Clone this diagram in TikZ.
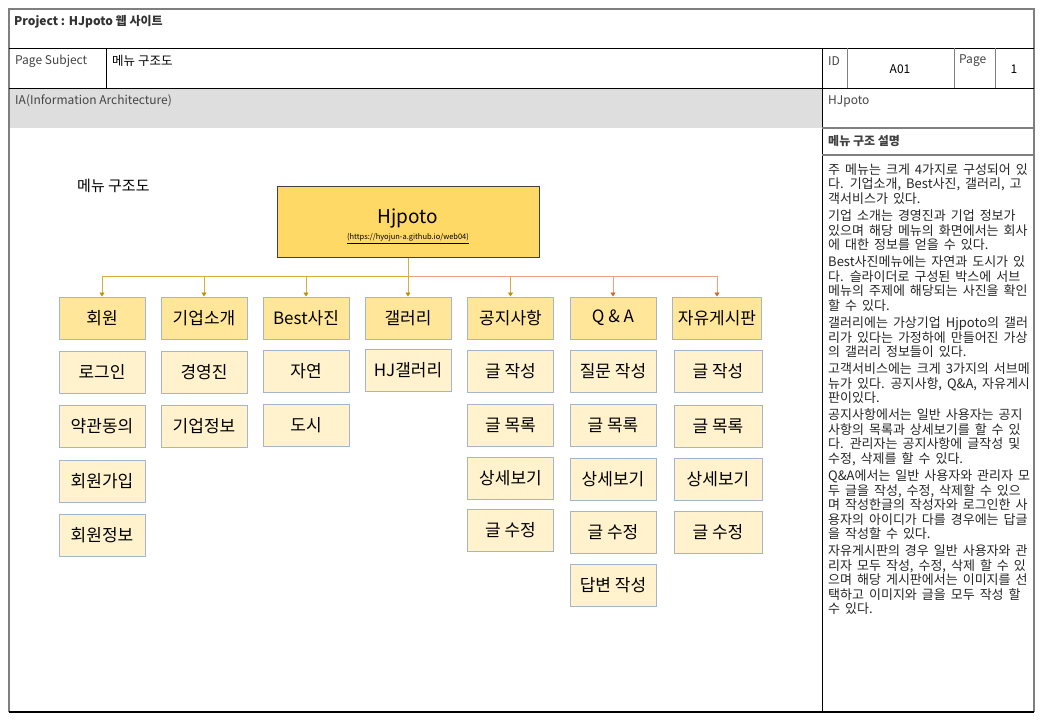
\documentclass[tikz,border=0pt]{standalone}
\usepackage{fontspec}
\setmainfont{Noto Sans CJK KR}
\usetikzlibrary{arrows.meta,calc}
\definecolor{rootfill}{HTML}{FFD966}
\definecolor{lonefill}{HTML}{FFE699}
\definecolor{ltwofill}{HTML}{FFF2CC}
\definecolor{boxborder}{HTML}{A5B6CC}
\definecolor{goldln}{HTML}{D6AE3A}
\definecolor{goldtip}{HTML}{BF9000}
\definecolor{orangeln}{HTML}{E9A27F}
\definecolor{orangetip}{HTML}{D0652A}
\definecolor{iagray}{HTML}{DEDEDE}
\definecolor{frame}{HTML}{7F7F7F}
\definecolor{hdrtext}{HTML}{444444}
\newcommand\mybodyfont{\fontsize{13}{14.5}\selectfont\spaceskip=5pt plus 1pt minus 1pt\relax}
\begin{document}
\begin{tikzpicture}[x=1pt,y=-1pt,
  lone/.style={draw=boxborder,line width=1pt,fill=lonefill,minimum width=86pt,minimum height=42pt,inner sep=0pt,font=\fontsize{17}{19}\selectfont},
  ltwo/.style={draw=boxborder,line width=1pt,fill=ltwofill,minimum width=86pt,minimum height=42pt,inner sep=0pt,font=\fontsize{17}{19}\selectfont},
  goldarrow/.style={draw=goldln,line width=0.9pt,-{Triangle[width=5pt,length=4pt,color=goldtip]}},
  orangearrow/.style={draw=orangeln,line width=0.9pt,-{Triangle[width=5pt,length=4pt,color=orangetip]}},
  hdr/.style={anchor=west,inner sep=0pt,font=\fontsize{12}{14}\selectfont,text=hdrtext}
]
\useasboundingbox (0,0) rectangle (1040,720);
\fill[white] (0,0) rectangle (1040,720);
% gray IA band
\fill[iagray] (9,88) rectangle (822,128);
% frame
\draw[frame,line width=1.3pt] (9,712) -- (9,9) -- (1034,9) -- (1034,712);
\draw[black,line width=1.5pt] (9,712) -- (1034,712);
\draw[black,line width=1pt] (9,48) -- (1034,48);
\draw[black,line width=1pt] (9,88) -- (1034,88);
\draw[black,line width=1pt] (106,48) -- (106,88);
\draw[black,line width=1pt] (822,48) -- (822,712);
\draw[frame,line width=1pt] (847,48) -- (847,88);
\draw[frame,line width=1pt] (954,48) -- (954,88);
\draw[frame,line width=1pt] (995,48) -- (995,88);
\draw[frame,line width=1.2pt] (822,128) -- (1034,128);
\draw[frame,line width=1.8pt] (822,155) -- (1034,155);
% header texts
\node[hdr,font=\bfseries\fontsize{12}{14}\selectfont,text=black!80] (proj) at (14,22) {Project : HJpoto 웹 사이트};
\node[hdr] (ps) at (15,61) {Page Subject};
\node[hdr,text=black,font=\fontsize{12.5}{14}\selectfont] (subj) at (112,61) {메뉴 구조도};
\node[hdr] (ia) at (15,101) {IA(Information Architecture)};
\node[hdr] (idl) at (828,61) {ID};
\node[inner sep=0pt,font=\fontsize{12}{14}\selectfont] (idv) at (900,69) {A01};
\node[hdr] (pgl) at (959,61) {Page};
\node[inner sep=0pt,font=\fontsize{12}{14}\selectfont] (pgv) at (1014,69) {1};
\node[hdr] (hj) at (828,101) {HJpoto};
\node[hdr,font=\bfseries\fontsize{12}{14}\selectfont,text=black!75] (desc) at (828,141) {메뉴 구조 설명};
% description text
\node[anchor=north west,inner sep=0pt,align=left,font=\mybodyfont,text=black!85] (body) at (828,163.5) {%
주 메뉴는 크게 4가지로 구성되어 있\\
다. 기업소개, Best사진, 갤러리, 고\\
객서비스가 있다.\\[2.7pt]
기업 소개는 경영진과 기업 정보가\\
있으며 해당 메뉴의 화면에서는 회사\\
에 대한 정보를 얻을 수 있다.\\[2.7pt]
Best사진메뉴에는 자연과 도시가 있\\
다. 슬라이더로 구성된 박스에 서브\\
메뉴의 주제에 해당되는 사진을 확인\\
할 수 있다.\\[2.7pt]
갤러리에는 가상기업 Hjpoto의 갤러\\
리가 있다는 가정하에 만들어진 가상\\
의 갤러리 정보들이 있다.\\[2.7pt]
고객서비스에는 크게 3가지의 서브메\\
뉴가 있다. 공지사항, Q\&A, 자유게시\\
판이있다.\\[2.7pt]
공지사항에서는 일반 사용자는 공지\\
사항의 목록과 상세보기를 할 수 있\\
다. 관리자는 공지사항에 글작성 및\\
수정, 삭제를 할 수 있다.\\[2.7pt]
Q\&A에서는 일반 사용자와 관리자 모\\
두 글을 작성, 수정, 삭제할 수 있으\\
며 작성한글의 작성자와 로그인한 사\\
용자의 아이디가 다를 경우에는 답글\\
을 작성할 수 있다.\\[2.7pt]
자유게시판의 경우 일반 사용자와 관\\
리자 모두 작성, 수정, 삭제 할 수 있\\
으며 해당 게시판에서는 이미지를 선\\
택하고 이미지와 글을 모두 작성 할\\
수 있다.};
% diagram title
\node[anchor=west,inner sep=0pt,font=\fontsize{15}{17}\selectfont] (title) at (77,186) {메뉴 구조도};
% root
\node[draw=black!75,line width=1pt,fill=rootfill,minimum width=262pt,minimum height=71pt,inner sep=0pt,align=center] (root) at (408,221.5)
  {{\fontsize{19}{21}\selectfont\rule{0pt}{24pt}Hjpoto}\\[4pt]{\fontsize{7.5}{9}\selectfont\underline{(https://hyojun-a.github.io/web04)}}};
\coordinate (bus) at (0,276);
% level 1
\node[lone] (c1) at (102,318) {회원};
\node[lone] (c2) at (204,318) {기업소개};
\node[lone] (c3) at (306,318) {Best사진};
\node[lone] (c4) at (408,318) {갤러리};
\node[lone] (c5) at (510.5,318) {공지사항};
\node[lone] (c6) at (613,318) {Q \& A};
\node[lone,minimum width=89pt] (c7) at (717,318) {자유게시판};
% connectors
\draw[orangeln,line width=0.9pt] (root.south |- bus) -- (c7.north |- bus);
\draw[goldarrow] (root.south) -- (root.south |- bus) -| (c1.north);
\draw[goldarrow] (root.south |- bus) -| (c2.north);
\draw[goldarrow] (root.south |- bus) -| (c3.north);
\draw[goldarrow] (root.south) -- (c4.north);
\draw[goldarrow] (c5.north |- bus) -- (c5.north);
\draw[orangearrow] (c6.north |- bus) -- (c6.north);
\draw[orangearrow] (c7.north |- bus) -- (c7.north);
% level 2 column 1
\node[ltwo] (a1) at (102,372) {로그인};
\node[ltwo] (a2) at (102,426) {약관동의};
\node[ltwo] (a3) at (102,481) {회원가입};
\node[ltwo] (a4) at (102,535) {회원정보};
% column 2
\node[ltwo] (b1) at (204,372) {경영진};
\node[ltwo] (b2) at (204,426) {기업정보};
% column 3
\node[ltwo] (d1) at (306,371) {자연};
\node[ltwo] (d2) at (306,425) {도시};
% column 4
\node[ltwo] (e1) at (408,370.5) {HJ갤러리};
% column 5
\node[ltwo] (f1) at (510.5,371) {글 작성};
\node[ltwo] (f2) at (510.5,425.5) {글 목록};
\node[ltwo] (f3) at (510.5,478.5) {상세보기};
\node[ltwo] (f4) at (510.5,530.5) {글 수정};
% column 6
\node[ltwo] (g1) at (613,371) {질문 작성};
\node[ltwo] (g2) at (613,425) {글 목록};
\node[ltwo] (g3) at (613,479.5) {상세보기};
\node[ltwo] (g4) at (613,532) {글 수정};
\node[ltwo] (g5) at (613,585.5) {답변 작성};
% column 7
\node[ltwo,minimum width=88pt] (h1) at (718,371.5) {글 작성};
\node[ltwo,minimum width=88pt] (h2) at (718,426.5) {글 목록};
\node[ltwo,minimum width=88pt] (h3) at (718,479) {상세보기};
\node[ltwo,minimum width=88pt] (h4) at (718,532) {글 수정};
\end{tikzpicture}
\end{document}
